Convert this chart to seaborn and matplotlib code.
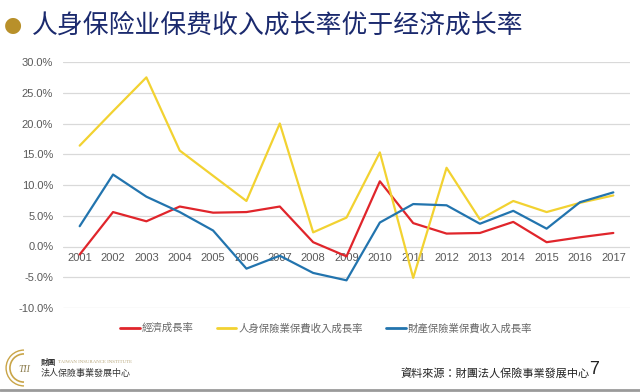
# 人身保险业保费收入成长率 vs 经济成长率 (2001-2017)

import matplotlib.pyplot as plt
import matplotlib.ticker as mticker
from matplotlib.lines import Line2D
from matplotlib.patches import Arc
import seaborn as sns
import pandas as pd

# --- Dados ---
years = list(range(2001, 2018))
economic_growth = [-1.3, 5.6, 4.1, 6.5, 5.5, 5.6, 6.5, 0.7, -1.6, 10.6,
                   3.8, 2.1, 2.2, 4.0, 0.7, 1.5, 2.2]
life_premium_growth = [16.4, 22.0, 27.5, 15.6, 11.5, 7.4, 20.0, 2.3, 4.7, 15.3,
                       -5.1, 12.8, 4.4, 7.4, 5.6, 7.1, 8.3]
property_premium_growth = [3.3, 11.7, 8.1, 5.6, 2.6, -3.6, -1.5, -4.3, -5.5, 3.9,
                           6.9, 6.7, 3.7, 5.8, 2.9, 7.2, 8.8]

series_names = ["經濟成長率", "人身保險業保費收入成長率", "財產保險業保費收入成長率"]
series_colors = ["#E0252B", "#F2D231", "#2274AE"]
title_text = "人身保险业保费收入成长率优于经济成长率"
source_text = "資料來源：財團法人保險事業發展中心"

df = pd.DataFrame({
    "year": years * 3,
    "value": economic_growth + life_premium_growth + property_premium_growth,
    "serie": [series_names[0]] * len(years) + [series_names[1]] * len(years)
             + [series_names[2]] * len(years),
})

# --- Gráfico ---
sns.set_theme(style="white")
plt.rcParams["font.family"] = ["Liberation Sans", "Noto Sans CJK TC", "DejaVu Sans"]

fig = plt.figure(figsize=(6.4, 3.92), dpi=100, facecolor="white")
ax = fig.add_axes([63 / 640, 1 - 308 / 392, (630 - 63) / 640, (308 - 62) / 392])

sns.lineplot(data=df, x="year", y="value", hue="serie", hue_order=series_names,
             palette=series_colors, linewidth=1.6, ax=ax, legend=False)

ax.set_xlim(2000.5, 2017.5)
ax.set_ylim(-10, 30)
ax.yaxis.set_major_locator(mticker.MultipleLocator(5))
ax.yaxis.set_major_formatter(mticker.FuncFormatter(lambda v, p: f"{v:.1f}%"))
ax.set_xticks(years)
ax.set_xticklabels([str(y) for y in years])
ax.grid(axis="y", color="#D9D9D9", linewidth=0.9)
ax.set_axisbelow(True)
for s in ax.spines.values():
    s.set_visible(False)
ax.spines["bottom"].set_position(("data", 0))
ax.tick_params(axis="both", length=0, labelsize=8, labelcolor="#595959")
ax.tick_params(axis="y", pad=7)
ax.tick_params(axis="x", pad=5)
ax.set_xlabel("")
ax.set_ylabel("")

# Legenda
handles = [Line2D([0], [0], color=c, linewidth=2) for c in series_colors]
fig.legend(handles, series_names, loc="center", bbox_to_anchor=(326 / 640, 1 - 328 / 392),
           ncol=3, frameon=False, prop={"family": ["Noto Sans CJK TC"], "size": 7.5},
           labelcolor="#666666", handlelength=1.9, handletextpad=0.2, columnspacing=2.2)

# Título com marcador
fig.text(13 / 640, 1 - 25 / 392, "●", color="#B8902A", fontsize=15,
         ha="center", va="center", family=["DejaVu Sans"])
fig.text(32 / 640, 1 - 25 / 392, title_text, color="#1B2A6E", fontsize=18.6,
         ha="left", va="center", family=["Noto Sans CJK SC"])

# Rodapé: logo
for r, lw in [(0.022, 1.2), (0.028, 1.0)]:
    fig.add_artist(Arc((24 / 640, 1 - 368 / 392), r * 2, r * 2 * 640 / 392,
                       theta1=90, theta2=270, color="#C9A548", linewidth=lw,
                       transform=fig.transFigure))
fig.text(24 / 640, 1 - 369 / 392, "TII", color="#8A7A4A", fontsize=7, style="italic",
         ha="center", va="center", family=["Liberation Serif"])
fig.text(41 / 640, 1 - 362 / 392, "財團", color="#333333", fontsize=5.5, weight="bold",
         ha="left", va="center", family=["Noto Sans CJK TC"])
fig.text(58 / 640, 1 - 362 / 392, "TAIWAN INSURANCE INSTITUTE", color="#B8A77A", fontsize=3.5,
         ha="left", va="center", family=["Liberation Serif"])
fig.text(41 / 640, 1 - 373 / 392, "法人保險事業發展中心", color="#333333", fontsize=6.5,
         ha="left", va="center", family=["Noto Sans CJK TC"])

# Rodapé: fonte
fig.text(400 / 640, 1 - 373 / 392, source_text, color="#222222", fontsize=8,
         ha="left", va="center", family=["Noto Sans CJK TC"])
fig.text(589 / 640, 1 - 370 / 392, "7", color="#222222", fontsize=13,
         ha="left", va="center", family=["Liberation Sans"])

fig.add_artist(Line2D([0, 1], [1 - 390 / 392, 1 - 390 / 392], color="#9A9A9A",
                      linewidth=2, transform=fig.transFigure))

fig.savefig("out.png", dpi=100, facecolor="white")
